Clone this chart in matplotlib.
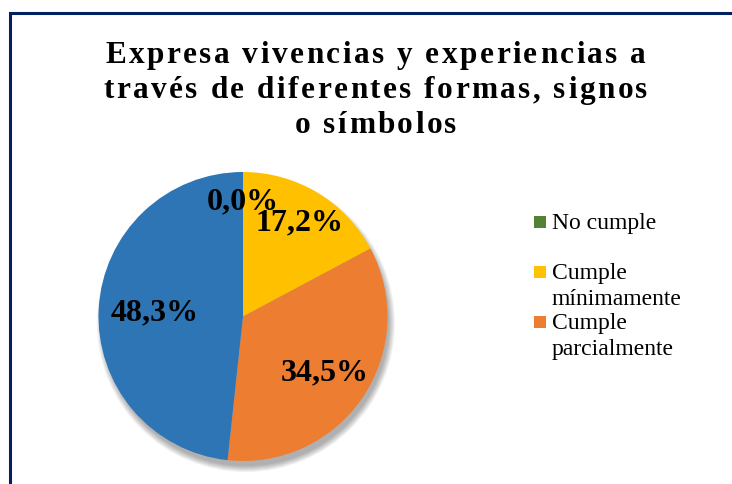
import numpy as np
import matplotlib
matplotlib.use('Agg')
import matplotlib.pyplot as plt
from matplotlib.patches import Rectangle, Circle
from matplotlib.font_manager import FontProperties
from matplotlib.textpath import TextToPath

# data
categories = ['No cumple', 'Cumple mínimamente', 'Cumple parcialmente', 'Cumple satisfactoriamente']
percent = [0.0, 17.2, 34.5, 48.3]
colors = ['#548235', '#FFC000', '#ED7D31', '#2E75B6']
legend_labels = ['No cumple', 'Cumple\nmínimamente', 'Cumple\nparcialmente']
title_lines = ['Expresa vivencias y experiencias a',
               'través de diferentes formas, signos',
               'o símbolos']

W, H = 732, 485
fig = plt.figure(figsize=(W / 100, H / 100), dpi=100)
fig.patch.set_facecolor('white')


def px(x, y):
    # pixel from top-left -> figure fraction
    return x / W, 1 - y / H


# chart frame (runs off the right and bottom edges)
fig.patches.append(Rectangle(px(10, 600), 900 / W, 586 / H, transform=fig.transFigure,
                             fill=False, edgecolor='#002060', linewidth=2.2))

# title, letter spaced
title_font = FontProperties(family='Liberation Serif', weight='bold', size=22.5)
t2p = TextToPath()
spacing = 2.5
for line, base in zip(title_lines, [63, 98, 133]):
    widths = [t2p.get_text_width_height_descent(c, title_font, ismath=False)[0] * 100 / 72
              for c in line]
    total = sum(widths) + spacing * (len(line) - 1)
    x = 375.5 - total / 2
    for c, w in zip(line, widths):
        fig.text(*px(x, base), c, fontproperties=title_font, ha='left', va='baseline')
        x += w + spacing

# pie
cx, cy, r = 243, 317.5, 144.5
ax = fig.add_axes([(cx - r) / W, (H - cy - r) / H, 2 * r / W, 2 * r / H])
for k in range(8):
    ax.add_patch(Circle((0.02, -0.045), 0.99 + 0.006 * k, color='black', alpha=0.045,
                        linewidth=0, clip_on=False, zorder=0))
wedges, _ = ax.pie(percent, colors=colors, startangle=90, counterclock=False,
                   wedgeprops=dict(linewidth=0))
for w in wedges:
    w.set_zorder(2)
ax.set_xlim(-1, 1)
ax.set_ylim(-1, 1)
ax.set_aspect('equal')
ax.axis('off')

label_dist = [0.80, 0.76, 0.68, 0.61]
for w, p, d in zip(wedges, percent, label_dist):
    ang = np.deg2rad((w.theta1 + w.theta2) / 2)
    ax.text(d * np.cos(ang), d * np.sin(ang), '{:.1f}%'.format(p).replace('.', ','),
            ha='center', va='center', fontsize=23, fontweight='bold',
            family='Liberation Serif', zorder=5)

# legend (first three entries are visible)
leg_y = [229, 279, 329]
for lab, col, yb in zip(legend_labels, colors, leg_y):
    fig.patches.append(Rectangle(px(534, yb), 12 / W, 12 / H, transform=fig.transFigure,
                                 facecolor=col, edgecolor='none'))
    for i, part in enumerate(lab.split('\n')):
        fig.text(*px(552, yb + 26 * i), part, fontsize=17, family='Liberation Serif',
                 ha='left', va='baseline')

fig.savefig('out.png', dpi=100)
